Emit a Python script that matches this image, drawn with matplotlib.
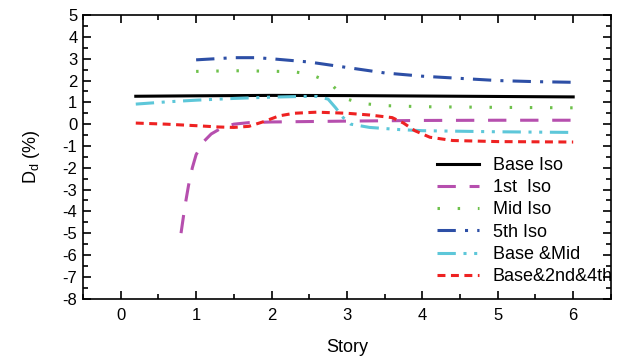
import numpy as np
import matplotlib.pyplot as plt
from matplotlib.ticker import MultipleLocator

plt.rcParams['font.family'] = ['Liberation Sans', 'DejaVu Sans']
plt.rcParams['axes.unicode_minus'] = False

# story positions / values
x_base = [0.2, 1.0, 2.0, 3.0, 4.0, 5.0, 6.0]
base_iso = [1.28, 1.3, 1.32, 1.31, 1.29, 1.27, 1.25]

x_1st = [0.8, 0.85, 0.9, 0.95, 1.0, 1.1, 1.2, 1.35, 1.5, 1.7, 2.0, 3.0, 4.0, 5.0, 6.0]
first_iso = [-5.0, -3.8, -2.8, -2.0, -1.4, -0.8, -0.45, -0.15, 0.0, 0.07, 0.1, 0.14, 0.17, 0.18, 0.18]

x_mid = [1.0, 1.5, 2.0, 2.3, 2.5, 2.65, 2.8, 2.9, 3.0, 3.2, 3.5, 4.0, 5.0, 6.0]
mid_iso = [2.42, 2.45, 2.43, 2.4, 2.3, 2.1, 1.8, 1.45, 1.15, 0.95, 0.85, 0.8, 0.77, 0.75]

x_5th = [1.0, 1.5, 1.8, 2.0, 2.5, 3.0, 3.5, 4.0, 4.5, 5.0, 5.5, 6.0]
fifth_iso = [2.95, 3.05, 3.05, 3.0, 2.85, 2.6, 2.35, 2.2, 2.1, 2.0, 1.95, 1.92]

x_bm = [0.2, 0.6, 1.0, 1.5, 2.0, 2.4, 2.6, 2.75, 2.85, 2.95, 3.05, 3.3, 3.7, 4.0, 5.0, 6.0]
base_mid = [0.92, 1.02, 1.1, 1.18, 1.24, 1.27, 1.27, 1.15, 0.75, 0.3, 0.0, -0.15, -0.25, -0.3, -0.35, -0.38]

x_b24 = [0.2, 0.6, 1.0, 1.3, 1.5, 1.7, 1.9, 2.1, 2.3, 2.6, 3.0, 3.3, 3.6, 3.75, 3.9, 4.1, 4.4, 5.0, 6.0]
base_2_4 = [0.05, 0.0, -0.07, -0.13, -0.15, -0.1, 0.12, 0.38, 0.5, 0.55, 0.5, 0.42, 0.3, 0.05, -0.3, -0.6, -0.75, -0.8, -0.82]

fig, ax = plt.subplots(figsize=(6.24, 3.61), dpi=100)
fig.subplots_adjust(left=0.133, right=0.979, top=0.958, bottom=0.173)

lw = 2.2
ax.plot(x_base, base_iso, color='black', lw=lw, label='Base Iso')
ax.plot(x_1st, first_iso, color='#B64FAE', lw=lw, dashes=(6, 4.5), label='1st  Iso')
ax.plot(x_mid, mid_iso, color='#6EC14B', lw=lw, dashes=(0.8, 5.8), label='Mid Iso')
ax.plot(x_5th, fifth_iso, color='#2D4FA6', lw=lw, dashes=(6, 3, 1, 3), label='5th Iso')
ax.plot(x_bm, base_mid, color='#5DC7D9', lw=lw, dashes=(6, 2.5, 1, 2.5, 1, 2.5), label='Base &Mid')
ax.plot(x_b24, base_2_4, color='#EE2222', lw=lw, dashes=(2.6, 1.8), label='Base&2nd&4th')

ax.set_xlim(-0.5, 6.5)
ax.set_ylim(-8, 5)
ax.xaxis.set_major_locator(MultipleLocator(1))
ax.xaxis.set_minor_locator(MultipleLocator(0.5))
ax.yaxis.set_major_locator(MultipleLocator(1))
ax.yaxis.set_minor_locator(MultipleLocator(0.5))
ax.tick_params(which='both', direction='in', top=True, right=True, width=1.2, labelsize=12)
ax.tick_params(which='major', length=6)
ax.tick_params(which='minor', length=3.5)
ax.tick_params(axis='x', pad=7)
ax.tick_params(axis='y', pad=4)
for s in ax.spines.values():
    s.set_linewidth(1.2)

ax.set_xlabel('Story', fontsize=13, labelpad=11)
ax.set_ylabel('D$_\\mathregular{d}$ (%)', fontsize=13, labelpad=15)

fig.legend(loc='upper left', bbox_to_anchor=(437 / 624, 1 - 157 / 361), bbox_transform=fig.transFigure,
           frameon=False, fontsize=13, borderpad=0, borderaxespad=0,
           handlelength=2.35, handletextpad=0.75, labelspacing=0.29)

fig.savefig('out.png', dpi=100)
